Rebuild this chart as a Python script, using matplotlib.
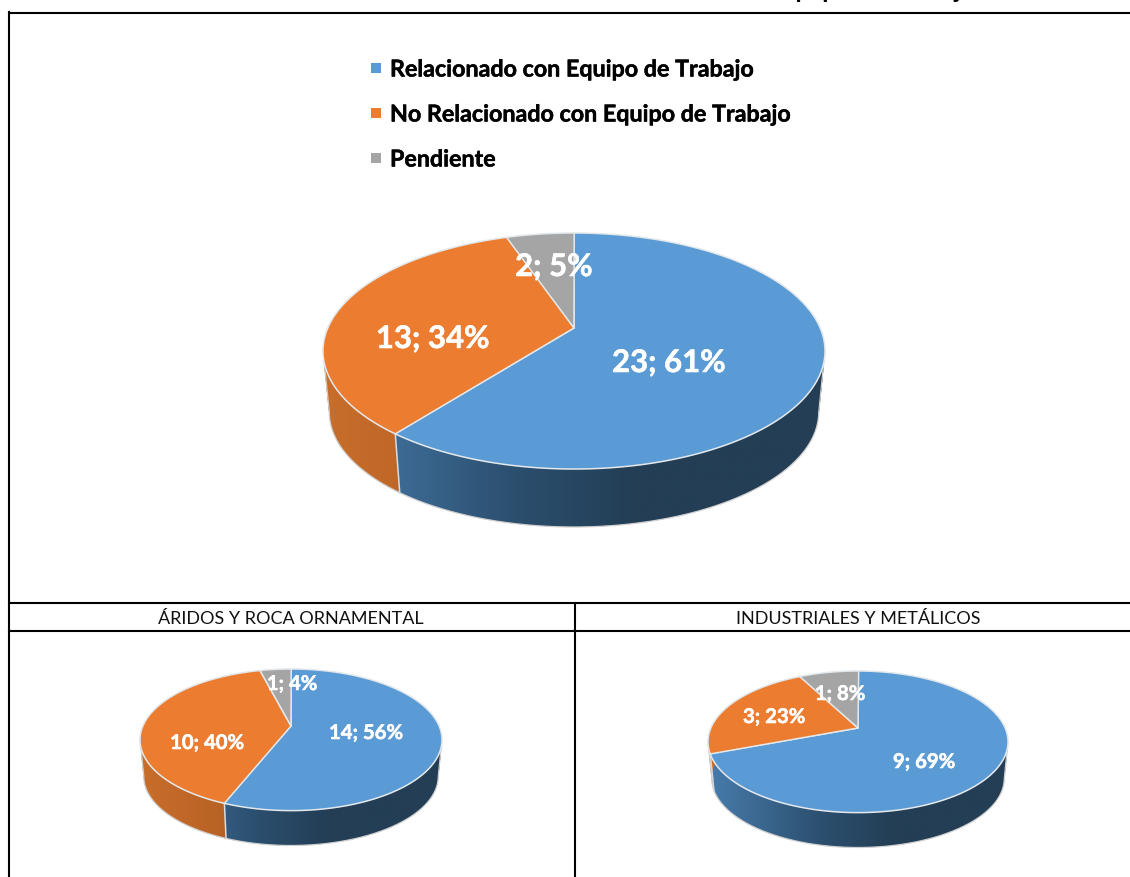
import numpy as np
import matplotlib
matplotlib.use('Agg')
import matplotlib.pyplot as plt
import matplotlib.patheffects as pe
from matplotlib.colors import LinearSegmentedColormap
from matplotlib.patches import PathPatch
from matplotlib.path import Path

plt.rcParams['font.family'] = ['Lato', 'DejaVu Sans']

categorias = ['Relacionado con Equipo de Trabajo', 'No Relacionado con Equipo de Trabajo', 'Pendiente']
total = [23, 13, 2]
aridos = [14, 10, 1]
industriales = [9, 3, 1]
titulo_aridos = 'ÁRIDOS Y ROCA ORNAMENTAL'
titulo_industriales = 'INDUSTRIALES Y METÁLICOS'

colores = ['#5B9BD5', '#EB7C30', '#A5A5A5']
# lateral: color a la izquierda, a mitad y a la derecha
lado = [['#487CAC', '#2C5070', '#233E55'],
        ['#C86E2C', '#B25E22', '#AA5A1E'],
        ['#787878', '#6E6E6E', '#646464']]

K = 0.195  # perspectiva
ESC = 0.975


def borde(theta, cx, cy, atras, ancho, esc=1.0, baja=0.0):
    # punto del circulo en perspectiva, theta en grados desde arriba, sentido horario
    t = np.radians(theta)
    u = np.sin(t)
    v = np.cos(t)
    a = atras * (1 + K)
    b = ancho * np.sqrt(1 - K * K)
    x = cx + esc * b * u / (1 + K * v)
    y = cy - esc * a * v / (1 + K * v) + baja
    return x, y


def pared_path(x1, y1, x2, y2):
    # union de cuadrilateros, todos con la misma orientacion
    verts = []
    codes = []
    for j in range(len(x1) - 1):
        q = [(x1[j], y1[j]), (x1[j + 1], y1[j + 1]), (x2[j + 1], y2[j + 1]), (x2[j], y2[j])]
        area = sum(q[n][0] * q[(n + 1) % 4][1] - q[(n + 1) % 4][0] * q[n][1] for n in range(4))
        if area < 0:
            q = q[::-1]
        verts += q + [q[0]]
        codes += [Path.MOVETO, Path.LINETO, Path.LINETO, Path.LINETO, Path.CLOSEPOLY]
    return Path(verts, codes)


def pie3d(ax, valores, cx, cy, atras, ancho, baja, textos, fs):
    valores = np.array(valores, dtype=float)
    fin = np.cumsum(valores) / valores.sum() * 360
    ini = np.r_[0, fin[:-1]]
    for i in range(len(valores)):
        th = np.arange(ini[i], fin[i] + 0.5, 0.5)
        x1, y1 = borde(th, cx, cy, atras, ancho)
        x2, y2 = borde(th, cx, cy, atras, ancho, ESC, baja)
        # lateral con degradado, recortado a la forma del sector
        pared = PathPatch(pared_path(x1, y1, x2, y2), transform=ax.transData, fc='none', ec='none')
        ax.add_patch(pared)
        cmap = LinearSegmentedColormap.from_list('lado', [(0, lado[i][0]), (0.37, lado[i][1]), (0.62, lado[i][2]), (1, lado[i][2])])
        img = ax.imshow(np.linspace(0, 1, 256).reshape(1, -1), cmap=cmap, vmin=0, vmax=1, aspect='auto',
                        extent=(cx - ancho, cx + ancho, cy + atras * 2 + baja * 2, cy - atras), zorder=2)
        img.set_clip_path(pared)
        if 90 < fin[i] < 270:
            xs, ys = borde(np.array([fin[i]]), cx, cy, atras, ancho)
            xi, yi = borde(np.array([fin[i]]), cx, cy, atras, ancho, ESC, baja)
            ax.plot([xs[0], xi[0]], [ys[0], yi[0]], color='#d8dde2', lw=1.1, zorder=3)
    # contorno exterior del lado
    th = np.arange(101, 259.5, 0.5)
    xc, yc = borde(th, cx, cy, atras, ancho, ESC, baja)
    xa, ya = borde(th[[0, -1]], cx, cy, atras, ancho)
    ax.plot(np.r_[xa[0], xc, xa[1]], np.r_[ya[0], yc, ya[1]], color='#cfcfcf', lw=0.9, zorder=3)
    for i in range(len(valores)):
        th = np.arange(ini[i], fin[i] + 0.5, 0.5)
        x1, y1 = borde(th, cx, cy, atras, ancho)
        ax.fill(np.r_[cx, x1], np.r_[cy, y1], facecolor=colores[i], edgecolor='#e3e8ec', lw=1.1, zorder=4, joinstyle='round')
    tot = valores.sum()
    for v, (tx, ty) in zip(valores, textos):
        ax.text(tx, ty, '%d; %d%%' % (v, round(v / tot * 100)), color='white', fontsize=fs,
                fontweight='bold', ha='center', va='center', zorder=6,
                path_effects=[pe.withStroke(linewidth=0.4, foreground='white')])


fig = plt.figure(figsize=(11.3, 8.77), dpi=100)
ax = fig.add_axes([0, 0, 1, 1])
ax.axis('off')

# lineas de la tabla
for y in [12.5, 603, 631]:
    ax.plot([9, 1130], [y, y], color='black', lw=1.5, zorder=1)
ax.plot([9, 9], [12, 877], color='black', lw=1.5, zorder=1)
ax.plot([574.5, 574.5], [603, 877], color='black', lw=1.5, zorder=1)

# titulo cortado por arriba, solo asoman los rabos
ax.text(975, -2.5, 'Equipo de Trabajo', color='black', fontsize=18, fontweight='bold', ha='right', va='baseline', clip_on=False)

# leyenda
for i, (cat, yl) in enumerate(zip(categorias, [68, 113, 158])):
    ax.scatter([376], [yl], marker='s', s=60, color=colores[i], linewidths=0, zorder=5)
    ax.text(390, yl, cat, color='black', fontsize=16.75, fontweight='bold', ha='left', va='center_baseline',
            path_effects=[pe.withStroke(linewidth=0.35, foreground='black')])

ax.text(291, 619, titulo_aridos, color='#111111', fontsize=13, ha='center', va='center')
ax.text(858, 619, titulo_industriales, color='#111111', fontsize=13, ha='center', va='center')

pie3d(ax, total, 574, 328, 95, 251, 61.5, [(669, 363), (433, 339), (554, 267)], 22.4)
pie3d(ax, aridos, 291, 726, 57, 151, 37, [(366, 733), (207, 743), (292, 684)], 14.6)
pie3d(ax, industriales, 858, 728, 57, 150, 37, [(924, 762), (774, 717), (840, 694)], 14.6)

ax.set_xlim(0, 1130)
ax.set_ylim(877, 0)

fig.savefig('out.png', dpi=100)
